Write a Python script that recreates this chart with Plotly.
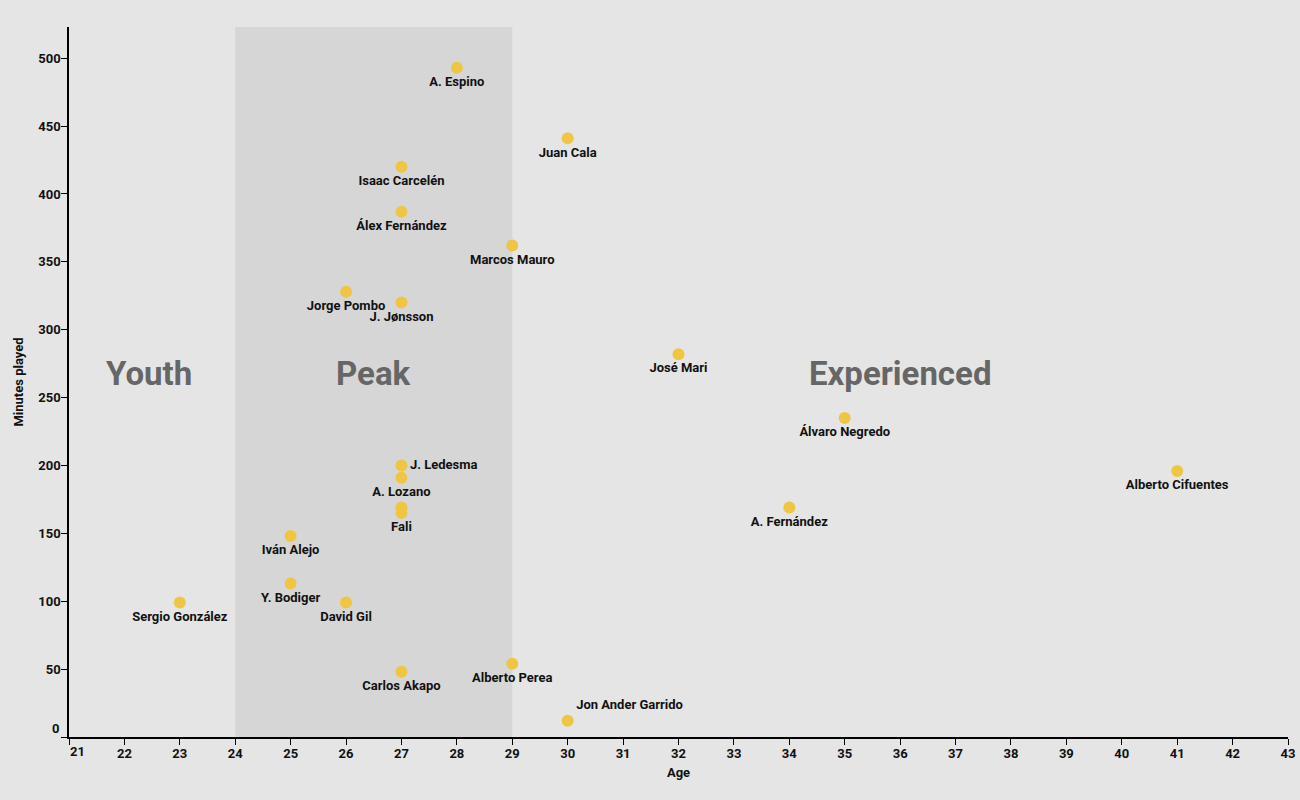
import plotly.graph_objects as go

names = ["A. Espino", "Juan Cala", "Isaac Carcelén", "Álex Fernández", "Marcos Mauro",
         "Jorge Pombo", "J. Jønsson", "José Mari", "Álvaro Negredo", "Alberto Cifuentes",
         "J. Ledesma", "A. Lozano", "Fali", "", "Iván Alejo", "Y. Bodiger", "David Gil",
         "Sergio González", "Carlos Akapo", "Alberto Perea", "Jon Ander Garrido", "A. Fernández"]
ages = [28, 30, 27, 27, 29, 26, 27, 32, 35, 41, 27, 27, 27, 27, 25, 25, 26, 23, 27, 29, 30, 34]
minutes = [493, 441, 420, 387, 362, 328, 320, 282, 235, 196, 200, 191, 165, 169, 148, 113, 99,
           99, 48, 54, 12, 169]
label_pos = ["bottom center"] * len(names)
label_pos[names.index("J. Ledesma")] = "middle right"
label_pos[names.index("Jon Ander Garrido")] = "top right"

zones = ["Youth", "Peak", "Experienced"]
zone_x = [22.45, 26.5, 36.0]
peak_range = [24, 29]

x_ticks = list(range(21, 44))
y_ticks = list(range(0, 501, 50))

FONT = "Roboto, sans-serif"

fig = go.Figure()
fig.add_trace(go.Scatter(
    x=ages, y=minutes, mode="markers+text", text=names, textposition=label_pos,
    marker=dict(size=12, color="#eec643"),
    textfont=dict(family=FONT, size=13, color="#111111", weight="bold"),
    hoverinfo="text", showlegend=False, cliponaxis=False,
))

fig.add_shape(type="rect", xref="x", yref="paper", x0=peak_range[0], x1=peak_range[1],
              y0=0, y1=1, fillcolor="#d6d6d6", line_width=0, layer="below")

for z, zx in zip(zones, zone_x):
    fig.add_annotation(x=zx, y=268, xref="x", yref="y", text=z, showarrow=False,
                       font=dict(family=FONT, size=33, color="#666666", weight="bold"))

# first tick labels are nudged away from the axis corner
fig.add_annotation(x=0, xref="paper", y=y_ticks[0], yref="y", yshift=9, xshift=-8,
                   xanchor="right", text=str(y_ticks[0]), showarrow=False,
                   font=dict(family=FONT, size=13, color="#111111", weight="bold"))
fig.add_annotation(x=x_ticks[0], xref="x", y=0, yref="paper", yshift=-14, xshift=8,
                   yanchor="middle", text=str(x_ticks[0]), showarrow=False,
                   font=dict(family=FONT, size=13, color="#111111", weight="bold"))

fig.update_layout(
    width=1300, height=800,
    paper_bgcolor="#e5e5e5", plot_bgcolor="#e5e5e5",
    margin=dict(l=69, r=12, t=27, b=63),
    font=dict(family=FONT, size=13, color="#111111", weight="bold"),
    xaxis=dict(range=[21, 43], tickmode="array", tickvals=x_ticks,
               ticktext=[""] + [str(v) for v in x_ticks[1:]], showgrid=False,
               zeroline=False, showline=True, linecolor="#000", linewidth=1.5,
               ticks="outside", ticklen=6, tickcolor="#000", automargin=False,
               ticklabelstandoff=-2,
               title=dict(text="Age", font=dict(size=13, weight="bold"), standoff=8),
               tickfont=dict(size=13, weight="bold")),
    yaxis=dict(range=[0, 523], tickmode="array", tickvals=y_ticks,
               ticktext=[""] + [str(v) for v in y_ticks[1:]], showgrid=False,
               zeroline=False, showline=True, linecolor="#000", linewidth=1.5,
               ticks="outside", ticklen=6, tickcolor="#000", automargin=False,
               ticklabelstandoff=-2,
               title=dict(text="Minutes played", font=dict(size=13, weight="bold"), standoff=12),
               tickfont=dict(size=13, weight="bold")),
)

fig.write_html("out.html")
